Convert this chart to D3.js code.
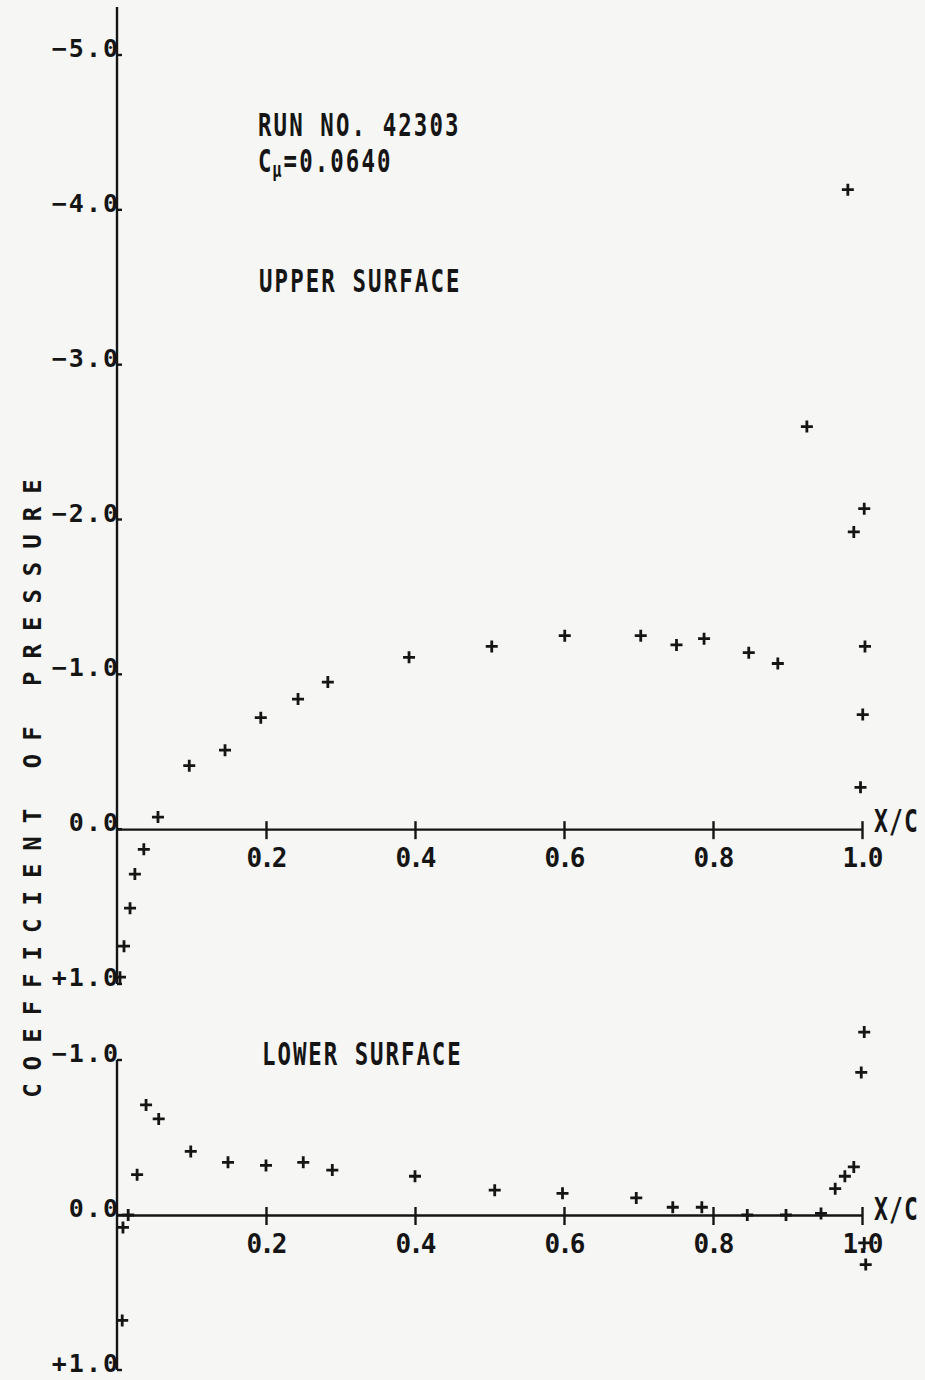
<!DOCTYPE html>
<html>
<head>
<meta charset="utf-8">
<script src="https://cdn.jsdelivr.net/npm/d3@7"></script>
<style>
  html, body { margin: 0; padding: 0; background: #f6f6f4; }
  svg { display: block; }
</style>
</head>
<body>
<svg id="chart" width="925" height="1380"></svg>
<script>
// ---------------- DATA ----------------
const xTicks = [0.2, 0.4, 0.6, 0.8, 1.0];
const xTickLabels = ["0.2", "0.4", "0.6", "0.8", "1.0"];

const upperYTicks = [-5, -4, -3, -2, -1, 0, 1];
const upperYLabels = ["−5.0", "−4.0", "−3.0", "−2.0", "−1.0", "0.0", "+1.0"];
const lowerYTicks = [-1, 0, 1];
const lowerYLabels = ["−1.0", "0.0", "+1.0"];

// Upper surface: x/c and Cp
const upperX  = [0.004, 0.0094, 0.0175, 0.024, 0.036, 0.055, 0.097, 0.145, 0.193, 0.243, 0.283,
                 0.392, 0.503, 0.601, 0.703, 0.751, 0.788, 0.848, 0.887, 0.926, 0.981,
                 1.003, 0.989, 1.004, 1.001, 0.998];
const upperCp = [0.956, 0.756, 0.51, 0.29, 0.13, -0.078, -0.41, -0.51, -0.72, -0.84, -0.95,
                 -1.11, -1.18, -1.25, -1.25, -1.19, -1.23, -1.14, -1.07, -2.60, -4.13,
                 -2.07, -1.92, -1.18, -0.74, -0.27];

// Lower surface: x/c and Cp
const lowerX  = [0.008, 0.015, 0.007, 0.027, 0.039, 0.056, 0.099, 0.149, 0.200, 0.250, 0.289,
                 0.400, 0.507, 0.598, 0.697, 0.746, 0.785, 0.846, 0.898, 0.945, 0.964,
                 0.977, 0.989, 1.003, 0.999, 1.003, 1.005];
const lowerCp = [0.08, 0.0, 0.68, -0.26, -0.71, -0.62, -0.41, -0.34, -0.32, -0.34, -0.29,
                 -0.25, -0.16, -0.14, -0.11, -0.05, -0.05, 0.0, 0.0, -0.01, -0.17,
                 -0.25, -0.31, -1.18, -0.92, 0.18, 0.32];

const titleLine1 = "RUN NO. 42303";
const titleLine2 = ["C", "μ", "=0.0640"];
const upperLabel = "UPPER SURFACE";
const lowerLabel = "LOWER SURFACE";
const xAxisName = "X/C";
const yAxisName = "COEFFICIENT OF PRESSURE";

// ---------------- DRAW ----------------
const INK = "#151515";
const FONT = "'DejaVu Sans Mono', 'Liberation Mono', monospace";
const svg = d3.select("#chart");

const x = d3.scaleLinear().domain([0, 1]).range([117, 862]);
const yU = d3.scaleLinear().domain([-5, 1]).range([55, 984]);
const yL = d3.scaleLinear().domain([-1, 1]).range([1060, 1370]);

function label(g, txt, px, py, size, sx, ls, anchor) {
  return g.append("text")
    .attr("transform", `translate(${px},${py}) scale(${sx},1)`)
    .attr("font-family", FONT)
    .attr("font-weight", "bold")
    .attr("font-size", size)
    .attr("letter-spacing", ls)
    .attr("text-anchor", anchor || "start")
    .attr("fill", INK)
    .text(txt);
}

function panel(yScale, yTop, yTicks, yLabels, xs, cps, xcLabelY) {
  const g = svg.append("g");
  const y0 = yScale(0);

  // vertical axis
  g.append("line")
    .attr("x1", x(0)).attr("x2", x(0))
    .attr("y1", yTop).attr("y2", yScale(yScale.domain()[1]))
    .attr("stroke", INK).attr("stroke-width", 2.4);

  // y ticks (short, to the right)
  g.selectAll(".yt").data(yTicks).join("line")
    .attr("x1", x(0)).attr("x2", x(0) + 5)
    .attr("y1", d => yScale(d)).attr("y2", d => yScale(d))
    .attr("stroke", INK).attr("stroke-width", 2.4);

  // y tick labels
  yTicks.forEach((t, i) => {
    label(g, yLabels[i], 120, yScale(t) + 2, 25, 1, 2, "end");
  });

  // horizontal axis using d3 axis generator
  const ax = d3.axisBottom(x).tickValues(xTicks).tickSize(10).tickSizeOuter(0)
    .tickFormat((d, i) => xTickLabels[i]);
  const axG = g.append("g").attr("transform", `translate(0,${y0})`).call(ax);
  axG.select(".domain").attr("stroke", INK).attr("stroke-width", 2.4);
  axG.selectAll(".tick line").attr("y1", -8).attr("y2", 10)
    .attr("stroke", INK).attr("stroke-width", 2.4);
  axG.selectAll(".tick text")
    .attr("y", 38).attr("dy", null).attr("dx", -1)
    .attr("font-family", FONT).attr("font-weight", "bold")
    .attr("font-size", 26).attr("letter-spacing", -3)
    .attr("fill", INK);

  // X/C
  label(g, xAxisName, 874, xcLabelY, 32, 0.72, 1.5, "start");

  // points
  g.selectAll(".pt").data(xs.map((v, i) => [v, cps[i]])).join("path")
    .attr("transform", d => `translate(${x(d[0])},${yScale(d[1])})`)
    .attr("d", "M-6,0H6M0,-6V6")
    .attr("stroke", INK).attr("stroke-width", 2.8).attr("fill", "none");
  return g;
}

panel(yU, 7, upperYTicks, upperYLabels, upperX, upperCp, 832);
panel(yL, yL(-1), lowerYTicks, lowerYLabels, lowerX, lowerCp, 1220);

// annotations
const ann = svg.append("g");
label(ann, titleLine1, 258, 136, 32, 0.7, 3);
const t2 = ann.append("text")
  .attr("transform", `translate(258,172) scale(0.7,1)`)
  .attr("font-family", FONT).attr("font-weight", "bold")
  .attr("font-size", 32).attr("letter-spacing", 3).attr("fill", INK);
t2.append("tspan").text(titleLine2[0]);
t2.append("tspan").attr("font-size", 22).attr("dy", 5).attr("dx", -2).text(titleLine2[1]);
t2.append("tspan").attr("dy", -5).attr("dx", 0).text(titleLine2[2]);

label(ann, upperLabel, 259, 292, 32, 0.7, 3);
label(ann, lowerLabel, 262, 1065, 32, 0.7, 2.8);

// y axis title (rotated)
svg.append("text")
  .attr("transform", "translate(41,782) rotate(-90)")
  .attr("font-family", FONT).attr("font-weight", "bold")
  .attr("font-size", 24).attr("letter-spacing", 13)
  .attr("text-anchor", "middle").attr("fill", INK)
  .text(yAxisName);
</script>
</body>
</html>
